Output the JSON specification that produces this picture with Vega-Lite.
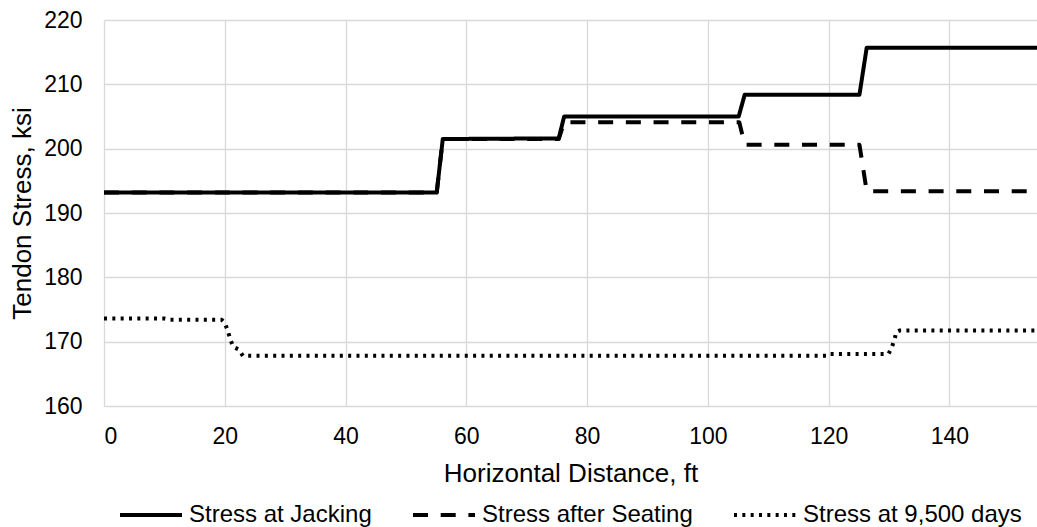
{
  "$schema": "https://vega.github.io/schema/vega-lite/v6.json",
  "width": 933,
  "height": 386,
  "autosize": "none",
  "padding": {"left": 104, "top": 20, "right": 0, "bottom": 121},
  "background": "white",
  "config": {
    "font": "Liberation Sans",
    "view": {"stroke": null},
    "axis": {"labelColor": "#000000", "titleColor": "#000000", "titleFontWeight": "normal", "labelFont": "Liberation Sans", "titleFont": "Liberation Sans"},
    "legend": {"labelColor": "#000000", "labelFont": "Liberation Sans"}
  },
  "data": {
    "values": [
      {"x": 0, "y": 193.2, "s": "Stress at Jacking"},
      {"x": 55.1, "y": 193.2, "s": "Stress at Jacking"},
      {"x": 56.1, "y": 201.5, "s": "Stress at Jacking"},
      {"x": 75.3, "y": 201.6, "s": "Stress at Jacking"},
      {"x": 76.2, "y": 205.0, "s": "Stress at Jacking"},
      {"x": 105.1, "y": 205.0, "s": "Stress at Jacking"},
      {"x": 106.1, "y": 208.4, "s": "Stress at Jacking"},
      {"x": 125.1, "y": 208.4, "s": "Stress at Jacking"},
      {"x": 126.3, "y": 215.7, "s": "Stress at Jacking"},
      {"x": 160, "y": 215.7, "s": "Stress at Jacking"},
      {"x": 0, "y": 193.2, "s": "Stress after Seating"},
      {"x": 55.1, "y": 193.2, "s": "Stress after Seating"},
      {"x": 56.1, "y": 201.5, "s": "Stress after Seating"},
      {"x": 75.3, "y": 201.5, "s": "Stress after Seating"},
      {"x": 76.2, "y": 204.1, "s": "Stress after Seating"},
      {"x": 105.2, "y": 204.1, "s": "Stress after Seating"},
      {"x": 106.1, "y": 200.6, "s": "Stress after Seating"},
      {"x": 125.1, "y": 200.6, "s": "Stress after Seating"},
      {"x": 126.3, "y": 193.4, "s": "Stress after Seating"},
      {"x": 160, "y": 193.4, "s": "Stress after Seating"},
      {"x": 0, "y": 173.6, "s": "Stress at 9,500 days"},
      {"x": 10.0, "y": 173.6, "s": "Stress at 9,500 days"},
      {"x": 11.0, "y": 173.4, "s": "Stress at 9,500 days"},
      {"x": 19.5, "y": 173.4, "s": "Stress at 9,500 days"},
      {"x": 20.0, "y": 172.9, "s": "Stress at 9,500 days"},
      {"x": 20.5, "y": 171.7, "s": "Stress at 9,500 days"},
      {"x": 20.9, "y": 170.4, "s": "Stress at 9,500 days"},
      {"x": 21.4, "y": 169.2, "s": "Stress at 9,500 days"},
      {"x": 22.3, "y": 168.8, "s": "Stress at 9,500 days"},
      {"x": 23.0, "y": 167.8, "s": "Stress at 9,500 days"},
      {"x": 119.8, "y": 167.8, "s": "Stress at 9,500 days"},
      {"x": 120.2, "y": 168.1, "s": "Stress at 9,500 days"},
      {"x": 129.9, "y": 168.1, "s": "Stress at 9,500 days"},
      {"x": 130.4, "y": 169.0, "s": "Stress at 9,500 days"},
      {"x": 130.9, "y": 170.3, "s": "Stress at 9,500 days"},
      {"x": 131.2, "y": 171.5, "s": "Stress at 9,500 days"},
      {"x": 131.8, "y": 171.75, "s": "Stress at 9,500 days"},
      {"x": 160, "y": 171.75, "s": "Stress at 9,500 days"}
    ]
  },
  "mark": {"type": "line", "color": "#000000", "strokeCap": "butt", "strokeJoin": "round", "clip": true},
  "encoding": {
    "x": {
      "field": "x", "type": "quantitative",
      "scale": {"domain": [0, 154.5], "nice": false, "zero": false},
      "axis": {
        "values": [0, 20, 40, 60, 80, 100, 120, 140],
        "title": "Horizontal Distance, ft",
        "grid": true, "gridColor": "#d9d9d9", "gridWidth": 1.3,
        "domain": false, "ticks": false, "tickSize": 0,
        "labelFontSize": 23, "labelPadding": 19,
        "titleFontSize": 26, "titlePadding": 12
      }
    },
    "y": {
      "field": "y", "type": "quantitative",
      "scale": {"domain": [160, 220], "nice": false, "zero": false},
      "axis": {
        "values": [160, 170, 180, 190, 200, 210, 220],
        "title": "Tendon Stress, ksi",
        "grid": true, "gridColor": "#d9d9d9", "gridWidth": 1.3,
        "domain": false, "ticks": false, "tickSize": 0,
        "labelFontSize": 23, "labelPadding": 22,
        "titleFontSize": 26, "titlePadding": 8
      }
    },
    "strokeDash": {
      "field": "s", "type": "nominal",
      "scale": {
        "domain": ["Stress at Jacking", "Stress after Seating", "Stress at 9,500 days"],
        "range": [[1, 0], [15, 12.7], [3, 5.33]]
      },
      "legend": {
        "title": null,
        "orient": "none",
        "legendX": 14,
        "legendY": 462,
        "direction": "horizontal",
        "symbolType": "stroke",
        "symbolSize": 3844,
        "symbolStrokeWidth": 4,
        "symbolStrokeColor": "#000000",
        "labelFontSize": 24,
        "labelLimit": 0,
        "labelOffset": 5,
        "columnPadding": 33
      }
    },
    "strokeWidth": {
      "field": "s", "type": "nominal",
      "scale": {
        "domain": ["Stress at Jacking", "Stress after Seating", "Stress at 9,500 days"],
        "range": [4, 4, 3.3]
      },
      "legend": null
    }
  }
}
